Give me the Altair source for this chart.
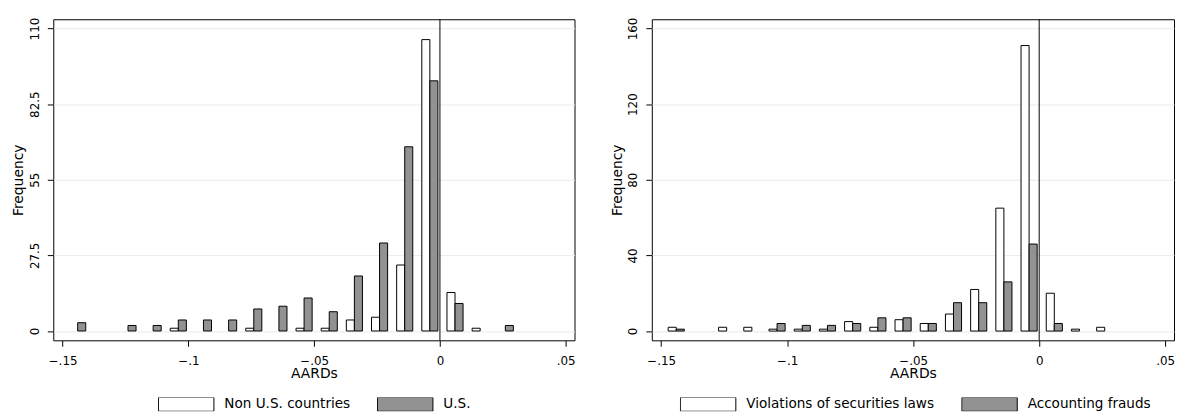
import altair as alt
import pandas as pd

# bin centres (AARDs) and frequencies
bins = [-0.144, -0.134, -0.124, -0.114, -0.104, -0.094, -0.084, -0.074, -0.064,
        -0.054, -0.044, -0.034, -0.024, -0.014, -0.004, 0.006, 0.016, 0.026]
non_us = [0, 0, 0, 0, 1, 0, 0, 1, 0, 1, 1, 4, 5, 24, 106, 14, 1, 0]
us = [3, 0, 2, 2, 4, 4, 4, 8, 9, 12, 7, 20, 32, 67, 91, 10, 0, 2]
violations = [2, 0, 2, 2, 1, 1, 1, 5, 2, 6, 4, 9, 22, 65, 151, 20, 1, 2]
frauds = [1, 0, 0, 0, 4, 3, 3, 4, 7, 7, 4, 15, 15, 26, 46, 4, 0, 0]

left_names = ["Non U.S. countries", "U.S."]
right_names = ["Violations of securities laws", "Accounting frauds"]
left_ticks = [0, 27.5, 55, 82.5, 110]
right_ticks = [0, 40, 80, 120, 160]
x_ticks = [-0.15, -0.1, -0.05, 0, 0.05]

FONT = "DejaVu Sans"
GRAY = "#929292"
BAR_W = 0.0032


def panel(names, s1, s2, yticks, ydom, legend_x, width):
    df = pd.DataFrame({
        "bin": bins + bins,
        "freq": s1 + s2,
        "series": [names[0]] * len(bins) + [names[1]] * len(bins),
        "side": [0] * len(bins) + [1] * len(bins),
    })
    xscale = alt.Scale(domain=[-0.1537, 0.0535], nice=False, zero=False)
    yscale = alt.Scale(domain=ydom, nice=False, zero=False)
    bars = alt.Chart(df).transform_filter("datum.freq > 0").transform_calculate(
        x0=f"datum.bin - {BAR_W} + datum.side * {BAR_W}",
        x1=f"datum.bin + datum.side * {BAR_W}",
    ).mark_bar(stroke="black", strokeWidth=1).encode(
        x=alt.X("x0:Q", scale=xscale, axis=alt.Axis(
            values=x_ticks, title="AARDs", grid=False, domain=False,
            tickSize=6, tickColor="black",
            labelExpr="replace(format(datum.value, '~g'), '0.', '.')",
            labelFontSize=12, labelPadding=9, titleFontSize=14,
            titleFontWeight="normal", titlePadding=1)),
        x2="x1:Q",
        y=alt.Y("freq:Q", scale=yscale, axis=alt.Axis(
            values=yticks, labelExpr="'' + datum.value", title="Frequency", grid=True,
            gridColor="#e4ecee", gridWidth=1, domain=False,
            tickSize=6, tickColor="black", labelAngle=270,
            labelAlign="center", labelBaseline="bottom", labelPadding=6,
            labelFontSize=12, titleFontSize=14, titleFontWeight="normal",
            titlePadding=3)),
        y2=alt.datum(0),
        fill=alt.Fill("series:N", scale=alt.Scale(domain=names, range=["white", GRAY]),
                      legend=alt.Legend(
                          title=None, orient="none", direction="horizontal",
                          legendX=legend_x, legendY=381.6, padding=0,
                          symbolType="M-1,-0.25H1V0.25H-1Z", symbolSize=3136,
                          symbolStrokeColor="black", symbolStrokeWidth=1,
                          clipHeight=14, labelOffset=10, columnPadding=27,
                          labelLimit=400,
                          labelFontSize=13.7, labelColor="black", labelFont=FONT)),
    )
    vline = alt.Chart(pd.DataFrame({"v": [0]})).mark_rule(
        color="black", strokeWidth=1).encode(x=alt.X("v:Q", scale=xscale))
    return alt.layer(bars, vline).properties(width=width, height=324)


left = panel(left_names, non_us, us, left_ticks, [-3.4, 113.4], 105.6, 526)
right = panel(right_names, violations, frauds, right_ticks, [-4.9, 164.9], 28.3, 527)

chart = alt.hconcat(left, right, spacing=78, bounds="flush").resolve_scale(
    fill="independent", x="independent", y="independent"
).properties(
    padding={"left": 2.7, "top": 6.5, "right": 0, "bottom": 0},
    background="white",
).configure(font=FONT).configure_view(
    stroke="black", strokeWidth=1
).configure_axis(
    labelColor="black", titleColor="black", labelFont=FONT, titleFont=FONT
)

chart.save("out.html", embed_options={"renderer": "svg", "actions": False})
